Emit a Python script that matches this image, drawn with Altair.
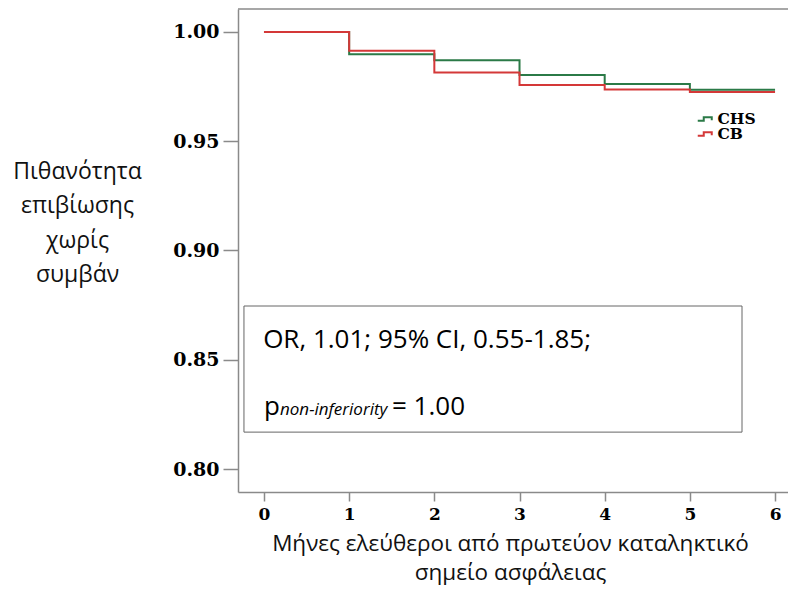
import altair as alt
import pandas as pd

# ---- data ----
months = [0, 1, 2, 3, 4, 5, 6]
chs = [1.000, 0.9898, 0.9871, 0.9803, 0.9762, 0.9735, 0.9735]
cb = [1.000, 0.9914, 0.9814, 0.9757, 0.9737, 0.9725, 0.9725]
groups = ["CHS", "CB"]
colors = ["#2b7a47", "#d43838"]
y_ticks = [0.80, 0.85, 0.90, 0.95, 1.00]
x_ticks = [0, 1, 2, 3, 4, 5, 6]

# annotation box (data coordinates)
box_x = [-0.235]
box_x2 = [5.612]
box_y = [0.8746]
box_y2 = [0.8169]
ann_text = ["OR, 1.01; 95% CI, 0.55-1.85;", "p", "non-inferiority", "= 1.00"]
ann_x = [-0.01, 0.0, 0.188, 1.503]
ann_y = [0.8591, 0.8248, 0.8248, 0.8248]

W, H = 550, 483
x_dom = [-0.305, 6.152]
y_dom = [0.7895, 1.0105]

rows = []
for g, vals in zip(groups, [chs, cb]):
    for m, v in zip(months, vals):
        rows.append({"month": m, "surv": v, "group": g})
df = pd.DataFrame(rows)

xs = alt.Scale(domain=x_dom, nice=False, zero=False)
ys = alt.Scale(domain=y_dom, nice=False, zero=False)

serif = "DejaVu Serif"
sans = "Open Sans"

lines = alt.Chart(df).mark_line(interpolate="step-after", strokeWidth=2, clip=True).encode(
    x=alt.X("month:Q", scale=xs,
            axis=alt.Axis(values=x_ticks, format="d", grid=False, domainColor="#8a8a8a",
                          domainWidth=1.5, tickColor="#8a8a8a", tickWidth=1.5, tickSize=9,
                          labelFont=serif, labelFontWeight="bold", labelFontSize=17,
                          labelColor="black", labelPadding=5,
                          title=["Μήνες ελεύθεροι από πρωτεύον καταληκτικό", "σημείο ασφάλειας"],
                          titleFont=sans, titleFontWeight="normal", titleFontSize=22.5,
                          titleColor="#111", titleLineHeight=29, titleAngle=0,
                          titleAlign="center", titleBaseline="alphabetic",
                          titleX=272, titleY=58)),
    y=alt.Y("surv:Q", scale=ys,
            axis=alt.Axis(values=y_ticks, format=".2f", grid=False, domainColor="#8a8a8a",
                          domainWidth=1.5, tickColor="#8a8a8a", tickWidth=1.5, tickSize=15,
                          labelFont=serif, labelFontWeight="bold", labelFontSize=19,
                          labelColor="black", labelPadding=4,
                          title=["Πιθανότητα", "επιβίωσης", "χωρίς", "συμβάν"],
                          titleFont=sans, titleFontWeight="normal", titleFontSize=23,
                          titleColor="#111", titleLineHeight=34.5, titleAngle=0,
                          titleAlign="center", titleBaseline="alphabetic",
                          titleX=-161, titleY=169)),
    color=alt.Color("group:N", scale=alt.Scale(domain=groups, range=colors),
                    legend=alt.Legend(title=None, orient="none", legendX=459, legendY=104,
                                      symbolType="M-1.4,0.35L-0.2,0.35L-0.2,-0.35L1.4,-0.35L1.4,0.25",
                                      symbolSize=100, symbolStrokeWidth=2,
                                      symbolFillColor="transparent",
                                      labelFont=serif, labelFontWeight="bold",
                                      labelFontSize=15.5, labelColor="black",
                                      labelOffset=5, rowPadding=-4, clipHeight=12)),
    order=alt.Order("month:Q"),
)

top_border = alt.Chart(pd.DataFrame({"a": [0]})).mark_rule(color="#8a8a8a", strokeWidth=1.5).encode(
    x=alt.value(0), x2=alt.value(W), y=alt.value(0)
)

box_df = pd.DataFrame({"x": box_x, "x2": box_x2, "y": box_y, "y2": box_y2})
box = alt.Chart(box_df).mark_rect(fill="white", stroke="#666", strokeWidth=1).encode(
    x=alt.X("x:Q", scale=xs), x2="x2:Q", y=alt.Y("y:Q", scale=ys), y2="y2:Q"
)

sizes = [26, 26, 17, 26]
styles = ["normal", "normal", "italic", "normal"]
baselines = ["middle", "alphabetic", "alphabetic", "alphabetic"]
texts = []
for i in range(len(ann_text)):
    d = pd.DataFrame({"x": [ann_x[i]], "y": [ann_y[i]], "t": [ann_text[i]]})
    texts.append(
        alt.Chart(d).mark_text(
            align="left", baseline=baselines[i], font=sans, fontSize=sizes[i],
            fontStyle=styles[i], color="black"
        ).encode(x=alt.X("x:Q", scale=xs), y=alt.Y("y:Q", scale=ys), text="t:N")
    )

chart = alt.layer(lines, top_border, box, *texts).properties(
    width=W, height=H,
    padding={"left": 230, "top": 1, "right": 0, "bottom": 93},
    autosize=alt.AutoSizeParams(type="none"),
).configure_view(stroke=None)

chart.save("out.html", embed_options={"renderer": "svg", "actions": False})
